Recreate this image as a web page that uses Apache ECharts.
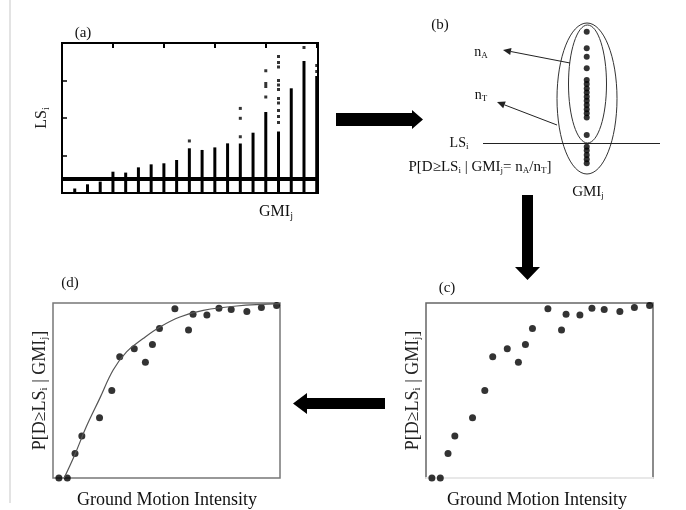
<!DOCTYPE html>
<html>
<head>
<meta charset="utf-8">
<script src="https://cdn.jsdelivr.net/npm/echarts@6/dist/echarts.min.js"></script>
<style>
html, body { margin: 0; padding: 0; background: #fff; }
#main { width: 686px; height: 510px; }
</style>
</head>
<body>
<div id="main"></div>
<script>
// (a) limit state values per GMI bin
var gmiBins = [1, 2, 3, 4, 5, 6, 7, 8, 9, 10, 11, 12, 13, 14, 15, 16, 17, 18, 19, 20];
var columnTops = [3, 5.8, 7.6, 14.2, 13.6, 17.1, 19.1, 19.8, 22, 29.8, 28.7, 30.4, 33.1, 33, 40.2, 54, 41, 69.8, 88, 78];
var scatterBin = [10, 14, 14, 14, 16, 16, 16, 16, 17, 17, 17, 17, 17, 17, 17, 17, 17, 17, 17, 19, 20, 20];
var scatterLS = [34.7, 37.5, 49.8, 56.4, 64, 71, 73, 81.5, 47, 51, 55, 60, 63, 69, 72, 75, 84, 87, 91, 97, 81, 85];
var lsThreshold = 9.5;

// (b) samples in one GMI bin
var binLS = [94.2, 83.2, 77.7, 70, 62.3, 59.6, 56.7, 53.9, 51.2, 48.5, 45.7, 42.8, 40.2, 37.5, 25.8,
             18.1, 15.5, 12.6, 9.7, 7.1];
var binX = 0.586;
var lsLevel = 20.3;

// (c) / (d) exceedance probabilities
var gmi = [0.026, 0.063, 0.097, 0.127, 0.205, 0.259, 0.294, 0.358, 0.407, 0.438,
           0.469, 0.537, 0.597, 0.617, 0.678, 0.731, 0.785, 0.854, 0.918, 0.985];
var pExceed = [0, 0, 0.14, 0.24, 0.345, 0.5, 0.693, 0.738, 0.662, 0.763,
               0.855, 0.967, 0.846, 0.936, 0.931, 0.97, 0.963, 0.951, 0.974, 0.986];
var fitX = [0.049, 0.096, 0.147, 0.206, 0.265, 0.324, 0.397, 0.471, 0.559, 0.662, 0.809, 1.0];
var fitP = [0, 0.133, 0.294, 0.455, 0.617, 0.721, 0.797, 0.863, 0.920, 0.958, 0.983, 0.996];

var serif = '"Liberation Serif", "DejaVu Serif", serif';

function sub(size) {
	return { fontSize: size, fontFamily: serif, padding: [Math.round(size * 0.8), 0, 0, 0] };
}

function pair(xs, ys) {
	return xs.map(function (x, i) { return [x, ys[i]]; });
}

function txt(x, y, text, size) {
	return {
		type: 'text', x: x, y: y, silent: true,
		style: {
			text: text, fontSize: size, fontFamily: serif, fill: '#111',
			align: 'center', verticalAlign: 'middle', textAlign: 'center', textVerticalAlign: 'middle',
			rich: { s: sub(Math.round(size * 0.62)) }
		}
	};
}

// thin arrow with a small head at (x2, y2)
function thinArrow(x1, y1, x2, y2) {
	var dx = x2 - x1, dy = y2 - y1, len = Math.sqrt(dx * dx + dy * dy);
	var ux = dx / len, uy = dy / len, bx = x2 - ux * 8, by = y2 - uy * 8;
	return [
		{ type: 'line', silent: true, shape: { x1: x1, y1: y1, x2: bx, y2: by }, style: { stroke: '#222', lineWidth: 1 } },
		{ type: 'polygon', silent: true, shape: { points: [[x2, y2], [bx - uy * 3.5, by + ux * 3.5], [bx + uy * 3.5, by - ux * 3.5]] }, style: { fill: '#222' } }
	];
}

function plainAxis(grid, extra) {
	var ax = {
		gridIndex: grid, type: 'value', min: 0, max: 1,
		axisLine: { show: false }, axisTick: { show: false },
		axisLabel: { show: false }, splitLine: { show: false }
	};
	if (extra) for (var k in extra) ax[k] = extra[k];
	return ax;
}

var probName = {
	name: 'P[D≥LS{s|i} | GMI{s|j}]',
	nameLocation: 'middle', nameRotate: 90, nameGap: 3,
	nameTextStyle: { fontSize: 18, fontFamily: serif, color: '#222', rich: { s: sub(11) } }
};

var chart = echarts.init(document.getElementById('main'));
var graphics = [
	{ type: 'line', silent: true, shape: { x1: 10, y1: 0, x2: 10, y2: 503 }, style: { stroke: '#dadada', lineWidth: 1.5 } },
	// block arrows
	{ type: 'polygon', silent: true, shape: { points: [[336, 113], [412, 113], [412, 110], [423, 119.5], [412, 129], [412, 126], [336, 126]] }, style: { fill: '#000' } },
	{ type: 'polygon', silent: true, shape: { points: [[522, 195], [533, 195], [533, 267], [540, 267], [527.5, 280], [515, 267], [522, 267]] }, style: { fill: '#000' } },
	{ type: 'polygon', silent: true, shape: { points: [[385, 398], [307, 398], [307, 393], [293, 403.5], [307, 414], [307, 409], [385, 409]] }, style: { fill: '#000' } },
	// ellipses in (b)
	{ type: 'ellipse', silent: true, shape: { cx: 587, cy: 98.5, rx: 30, ry: 75.5 }, style: { fill: null, stroke: '#333', lineWidth: 1 } },
	{ type: 'ellipse', silent: true, shape: { cx: 587.5, cy: 84, rx: 19, ry: 59 }, style: { fill: null, stroke: '#333', lineWidth: 1 } },
	txt(83, 33, '(a)', 15),
	txt(440, 25, '(b)', 15),
	txt(447, 288, '(c)', 15),
	txt(70, 283, '(d)', 15),
	txt(276, 212, 'GMI{s|j}', 16),
	txt(481, 52, 'n{s|A}', 14),
	txt(481, 95, 'n{s|T}', 14),
	txt(459, 143, 'LS{s|i}', 14),
	txt(480, 167, 'P[D≥LS{s|i} | GMI{s|j}= n{s|A}/n{s|T}]', 15),
	txt(588, 192, 'GMI{s|j}', 15),
	txt(167, 500, 'Ground Motion Intensity', 18),
	txt(537, 500, 'Ground Motion Intensity', 18)
].concat(thinArrow(570, 63, 503, 50)).concat(thinArrow(557, 125, 497, 102));

var option = {
	animation: false,
	backgroundColor: '#fff',
	grid: [
		{ left: 62, top: 43, width: 256, height: 150, show: true, borderColor: '#000', borderWidth: 2, backgroundColor: 'transparent' },
		{ left: 483, top: 23, width: 177, height: 151 },
		{ left: 426, top: 303, width: 227, height: 175, show: true, borderColor: '#666', borderWidth: 1.5, backgroundColor: 'transparent' },
		{ left: 53, top: 303, width: 227, height: 175, show: true, borderColor: '#777', borderWidth: 1.5, backgroundColor: 'transparent' }
	],
	xAxis: [
		{
			gridIndex: 0, type: 'value', position: 'top', min: 0, max: 20.1, interval: 4,
			axisLine: { show: true, onZero: false, lineStyle: { color: '#000', width: 2 } },
			axisTick: { show: true, inside: true, length: 5, lineStyle: { color: '#000', width: 2 } },
			axisLabel: { show: false }, splitLine: { show: false }
		},
		plainAxis(1, { show: false }),
		plainAxis(2, { axisLine: { show: true, onZero: false, lineStyle: { color: '#e8e8e8', width: 2 } } }),
		plainAxis(3)
	],
	yAxis: [
		{
			gridIndex: 0, type: 'value', position: 'left', min: 0, max: 100, interval: 25,
			axisLine: { show: true, onZero: false, lineStyle: { color: '#000', width: 2 } },
			axisTick: { show: true, inside: true, length: 5, lineStyle: { color: '#000', width: 1.5 } },
			axisLabel: { show: false }, splitLine: { show: false },
			name: 'LS{s|i}', nameLocation: 'middle', nameRotate: 90, nameGap: 11,
			nameTextStyle: { fontSize: 16, fontFamily: serif, color: '#222', rich: { s: sub(10) } }
		},
		plainAxis(1, { show: false, max: 100 }),
		plainAxis(2, probName),
		plainAxis(3, probName)
	],
	graphic: graphics,
	series: [
		{
			type: 'bar', xAxisIndex: 0, yAxisIndex: 0, barWidth: 3,
			itemStyle: { color: '#000' },
			data: pair(gmiBins, columnTops),
			markLine: {
				silent: true, symbol: 'none', label: { show: false },
				lineStyle: { color: '#000', width: 4, type: 'solid' },
				data: [{ yAxis: lsThreshold }]
			}
		},
		{
			type: 'scatter', xAxisIndex: 0, yAxisIndex: 0, symbol: 'rect', symbolSize: [3, 3],
			itemStyle: { color: '#000' },
			data: pair(scatterBin, scatterLS)
		},
		{
			type: 'scatter', xAxisIndex: 1, yAxisIndex: 1, symbolSize: 6,
			itemStyle: { color: '#000' },
			data: binLS.map(function (v) { return [binX, v]; }),
			markLine: {
				silent: true, symbol: 'none', label: { show: false },
				lineStyle: { color: '#222', width: 1, type: 'solid' },
				data: [{ yAxis: lsLevel }]
			}
		},
		{
			type: 'scatter', xAxisIndex: 2, yAxisIndex: 2, symbolSize: 7, clip: false,
			itemStyle: { color: '#000' },
			data: pair(gmi, pExceed)
		},
		{
			type: 'line', xAxisIndex: 3, yAxisIndex: 3, smooth: 0.4, showSymbol: false,
			lineStyle: { color: '#555', width: 1.2 },
			data: pair(fitX, fitP)
		},
		{
			type: 'scatter', xAxisIndex: 3, yAxisIndex: 3, symbolSize: 7, clip: false,
			itemStyle: { color: '#000' },
			data: pair(gmi, pExceed)
		}
	]
};
chart.setOption(option);
</script>
</body>
</html>
